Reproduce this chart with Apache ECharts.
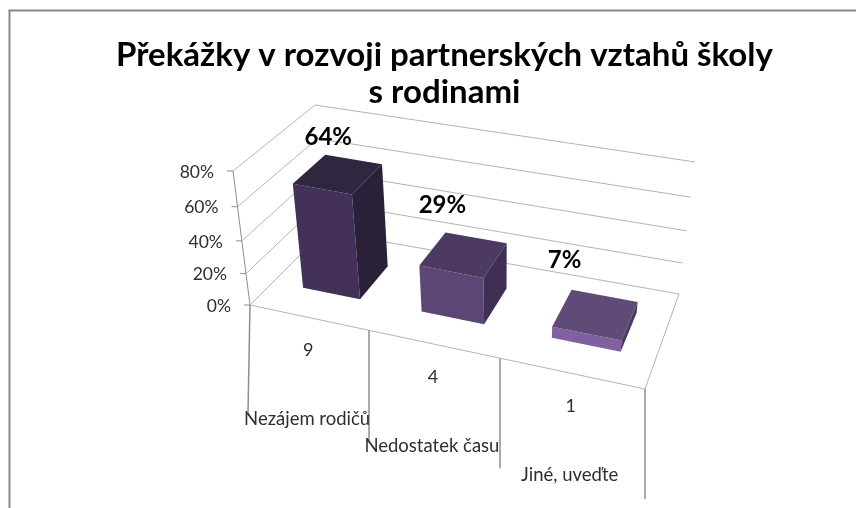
<!DOCTYPE html>
<html>
<head>
<meta charset="utf-8">
<style>
  html, body { margin: 0; padding: 0; background: #fff; }
  #chart { width: 856px; height: 508px; }
</style>
</head>
<body>
<div id="chart"></div>
<script src="https://cdn.jsdelivr.net/npm/echarts@6/dist/echarts.min.js"></script>
<script>
  var categories = ['Nezájem rodičů', 'Nedostatek času', 'Jiné, uveďte'];
  var counts = [9, 4, 1];
  var shares = [64, 29, 7];
  var axisTicks = [0, 20, 40, 60, 80];
  var titleLines = ['Překážky v rozvoji partnerských vztahů školy', 's rodinami'];

  // bar shades: front, top, side
  var barShades = [
    ['#43315a', '#30263f', '#2a2138'],
    ['#5d4675', '#4d3a62', '#3f3053'],
    ['#8060a2', '#604a78', '#4c3a64']
  ];
  // label offset from the back left top corner of each bar
  var labelNudge = [[3, -18], [-3, -27], [-7, -29]];
  var lineColor = '#b4b4b4';
  var tickColor = '#8e8e8e';
  var textColor = '#2f2f2f';
  var font = 'Lato';

  // unit square -> quad (p00, p10, p11, p01)
  function quad(p00, p10, p11, p01) {
    var dx1 = p10[0] - p11[0], dx2 = p01[0] - p11[0], sx = p00[0] - p10[0] + p11[0] - p01[0];
    var dy1 = p10[1] - p11[1], dy2 = p01[1] - p11[1], sy = p00[1] - p10[1] + p11[1] - p01[1];
    var den = dx1 * dy2 - dx2 * dy1;
    var g = (sx * dy2 - dx2 * sy) / den;
    var h = (dx1 * sy - sx * dy1) / den;
    var a = p10[0] - p00[0] + g * p10[0], b = p01[0] - p00[0] + h * p01[0];
    var d = p10[1] - p00[1] + g * p10[1], e = p01[1] - p00[1] + h * p01[1];
    return function (u, v) {
      var w = g * u + h * v + 1;
      return [(a * u + b * v + p00[0]) / w, (d * u + e * v + p00[1]) / w];
    };
  }

  // the box of the 3d plot
  var floorPlane = quad([250, 305], [645, 389], [679, 294], [324, 231]);
  var topPlane = quad([233, 171], [659, 251], [695, 162], [315, 105]);

  function project(x, t, z) {
    var s = t / (t + (1 - t) * 1.09);
    var f = floorPlane(x, z), g = topPlane(x, z);
    return [f[0] + (g[0] - f[0]) * s, f[1] + (g[1] - f[1]) * s];
  }

  // axis pixels -> 0..1 inside the hidden grid
  function unit(params, api, cat, val) {
    var c = api.coord([cat, val]), r = params.coordSys;
    return [(c[0] - r.x) / r.width, (r.y + r.height - c[1]) / r.height];
  }

  function poly(points, fill) {
    return { type: 'polygon', shape: { points: points }, style: { fill: fill } };
  }
  function line(a, b, width, color) {
    return {
      type: 'line',
      shape: { x1: a[0], y1: a[1], x2: b[0], y2: b[1] },
      style: { stroke: color || lineColor, lineWidth: width || 1 }
    };
  }
  function label(text, x, y, size, align, weight, color) {
    return {
      type: 'text',
      style: {
        text: text, x: x, y: y, fill: color || textColor, align: align, verticalAlign: 'middle',
        font: (weight || 'normal') + ' ' + size + 'px ' + font
      }
    };
  }

  function renderTick(params, api) {
    var t = unit(params, api, 0, api.value(0))[1];
    var a = project(0, t, 0), b = project(0, t, 1), c = project(1, t, 1);
    return {
      type: 'group',
      children: [
        line(a, b), line(b, c),
        line([a[0] - 6, a[1]], a, 1, tickColor),
        label(api.value(0) + '%', a[0] - 19, a[1] + 1, 17.5, 'right')
      ]
    };
  }

  function renderCategory(params, api) {
    var i = api.value(0);
    var band = api.size([1, 0])[0] / params.coordSys.width;
    var mid = unit(params, api, i, 0)[0];
    var x0 = mid - band / 2, x1 = mid + band / 2;
    var a = project(x0, 0, 0), b = project(x1, 0, 0), m = project(mid, 0, 0);
    var kids = [
      line(a, b),
      line(b, [b[0], b[1] + 110], 1.5, tickColor),
      label(String(api.value(1)), m[0], m[1] + 33, 18, 'center'),
      label(categories[i], m[0] - 1, m[1] + 102, 18.5, 'center')
    ];
    if (i === 0) {
      kids.push(line(a, [a[0] - 2, a[1] + 108], 1.5, tickColor));
      kids.push(line(project(0, 0, 0), project(0, 1, 0), 1, tickColor));
    }
    if (i === categories.length - 1) {
      kids.push(line(b, project(1, 0, 1)));
    }
    return { type: 'group', children: kids };
  }

  function renderBar(params, api) {
    var i = api.value(0);
    var u = unit(params, api, i, api.value(1));
    var half = 0.246 * api.size([1, 0])[0] / params.coordSys.width;
    var cx = u[0] + 0.004;
    var x0 = cx - half, x1 = cx + half, z0 = 0.29, z1 = 0.71, t = u[1];
    var shade = barShades[i];
    var fb = project(x0, 0, z0), fr = project(x1, 0, z0), bk = project(x1, 0, z1);
    var tl = project(x0, t, z0), tr = project(x1, t, z0), tbr = project(x1, t, z1), tbl = project(x0, t, z1);
    return {
      type: 'group',
      children: [
        poly([fb, fr, tr, tl], shade[0]),
        poly([tl, tr, tbr, tbl], shade[1]),
        poly([fr, bk, tbr, tr], shade[2]),
        label(api.value(1) + '%', tbl[0] + labelNudge[i][0], tbl[1] + labelNudge[i][1], 24, 'center', 'bold', '#000')
      ]
    };
  }

  var chart = echarts.init(document.getElementById('chart'));
  chart.setOption({
    animation: false,
    backgroundColor: '#fff',
    title: {
      text: titleLines.join('\n'),
      left: 439.5,
      top: 32,
      textAlign: 'center',
      textStyle: { fontFamily: font, fontWeight: 'bold', fontSize: 33, lineHeight: 37, color: '#000' }
    },
    graphic: [{
      type: 'polyline',
      shape: { points: [[9.5, 508], [9.5, 10.5], [856, 10.5]] },
      style: { stroke: '#888888', lineWidth: 2, fill: null }
    }],
    grid: { left: 0, right: 0, top: 0, bottom: 0 },
    xAxis: { type: 'category', data: categories, show: false },
    yAxis: { type: 'value', min: 0, max: 80, show: false },
    series: [
      {
        type: 'custom',
        name: 'osa',
        clip: false,
        data: axisTicks.map(function (v) { return [v]; }),
        encode: { y: 0 },
        renderItem: renderTick
      },
      {
        type: 'custom',
        name: 'kategorie',
        clip: false,
        data: categories.map(function (c, i) { return [i, counts[i]]; }),
        encode: { x: 0 },
        renderItem: renderCategory
      },
      {
        type: 'custom',
        name: 'podíl',
        clip: false,
        data: categories.map(function (c, i) { return [i, shares[i]]; }),
        encode: { x: 0, y: 1 },
        renderItem: renderBar
      }
    ]
  });
</script>
</body>
</html>
